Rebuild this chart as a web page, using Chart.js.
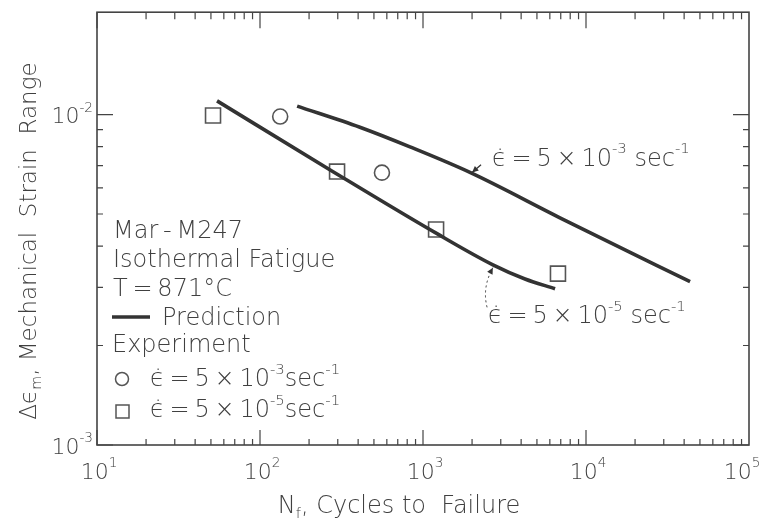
<!DOCTYPE html>
<html><head><meta charset="utf-8">
<script src="https://cdn.jsdelivr.net/npm/chart.js@4/dist/chart.umd.min.js"></script>
<style>html,body{margin:0;padding:0;background:#fff}#wrap{width:762px;height:524px;position:relative}</style>
</head><body><div id="wrap"><canvas id="c"></canvas></div>
<script>
// ---------- data ----------
const xDecades = [10, 100, 1000, 10000, 100000];
const xTickLabels = [['10','1'],['10','2'],['10','3'],['10','4'],['10','5']];
const yDecades = [0.001, 0.01];
const yTickLabels = [['10','-3'],['10','-2']];

const predFastN      = [169, 410, 832, 1941, 6920, 26900, 43500];
const predFastStrain = [0.0106, 0.00915, 0.00798, 0.00668, 0.00487, 0.00350, 0.00312];
const predSlowN      = [54.5, 268, 1219, 2685, 4224, 6460];
const predSlowStrain = [0.0110, 0.00681, 0.00436, 0.00351, 0.00318, 0.00297];

const expFastN      = [133, 560];
const expFastStrain = [0.00986, 0.00667];
const expSlowN      = [51.5, 297, 1203, 6730];
const expSlowStrain = [0.00993, 0.00672, 0.00449, 0.00330];

const FONT = '"DejaVu Sans", sans-serif';
const WEIGHT = '300 ';
const TXT = '#404040';
const LINE = '#333';

function pts(xs, ys){ return xs.map((x,i)=>({x:x, y:ys[i]})); }

// rich text: parts [{t, sup, sub}]
function drawRich(ctx, x, y, parts, size, align){
  const w = parts.map(p=>{
    ctx.font = WEIGHT + ((p.sup||p.sub)? size*0.62 : size) + 'px ' + FONT;
    return ctx.measureText(p.t).width;
  });
  const total = w.reduce((a,b)=>a+b,0);
  let cx = align==='right' ? x-total : align==='center' ? x-total/2 : x;
  ctx.textAlign = 'left';
  ctx.textBaseline = 'middle';
  parts.forEach((p,i)=>{
    const s = (p.sup||p.sub)? size*0.62 : size;
    ctx.font = WEIGHT + s + 'px ' + FONT;
    const dy = p.sup ? -size*0.42 : p.sub ? size*0.3 : 0;
    ctx.fillText(p.t, cx, y + dy);
    cx += w[i];
  });
  return total;
}

const framePlugin = {
  id: 'frame',
  afterDraw(chart){
    const ctx = chart.ctx, a = chart.chartArea;
    const xs = chart.scales.x, ys = chart.scales.y;
    ctx.save();
    ctx.strokeStyle = '#444';
    ctx.lineWidth = 1.6;
    ctx.strokeRect(a.left, a.top, a.right-a.left, a.bottom-a.top);
    ctx.lineWidth = 1.2;
    ctx.beginPath();
    // x ticks (bottom & top)
    for (let d=0; d<xDecades.length-1; d++){
      for (let k=1; k<10; k++){
        const v = xDecades[d]*k;
        const px = xs.getPixelForValue(v);
        const major = (k===1);
        ctx.moveTo(px, a.bottom); ctx.lineTo(px, a.bottom - (major?15:6));
        ctx.moveTo(px, a.top); ctx.lineTo(px, a.top + (major?16:7));
      }
    }
    // y ticks (left & right)
    for (let k=1; k<=10; k++){
      const v = yDecades[0]*k;
      const py = ys.getPixelForValue(v);
      const major = (k===1 || k===10);
      ctx.moveTo(a.left, py); ctx.lineTo(a.left + (major?16:6), py);
      ctx.moveTo(a.right, py); ctx.lineTo(a.right - (major?16:6), py);
    }
    ctx.stroke();

    // tick labels
    ctx.fillStyle = TXT;
    xDecades.forEach((v,i)=>{
      let cx = xs.getPixelForValue(v) + 2;
      if (i === xDecades.length-1) cx = Math.min(cx, chart.width - 20);
      drawRich(ctx, cx, a.bottom+28, [{t:xTickLabels[i][0]},{t:xTickLabels[i][1],sup:true}], 22, 'center');
    });
    yDecades.forEach((v,i)=>{
      drawRich(ctx, a.left-4, ys.getPixelForValue(v)+3, [{t:yTickLabels[i][0]},{t:yTickLabels[i][1],sup:true}], 22, 'right');
    });

    // axis titles
    drawRich(ctx, (a.left+a.right)/2 - 24, 507, [{t:'N'},{t:'f',sub:true},{t:', Cycles to  Failure'}], 24, 'center');
    ctx.save();
    ctx.translate(30, 241);
    ctx.rotate(-Math.PI/2);
    drawRich(ctx, 0, 0, [{t:'\u0394\u03f5'},{t:'m',sub:true},{t:', Mechanical  Strain  Range'}], 23, 'center');
    ctx.restore();

    // legend block
    const lx = a.left + 16;
    const fs = 24;
    drawRich(ctx, lx, 232, [{t:'Mar\u2009-\u2009M247'}], fs, 'left');
    drawRich(ctx, lx, 261, [{t:'Isothermal Fatigue'}], fs, 'left');
    drawRich(ctx, lx, 290, [{t:'T\u2009=\u2009871\u00b0C'}], fs, 'left');
    ctx.strokeStyle = LINE; ctx.lineWidth = 3.5;
    ctx.beginPath(); ctx.moveTo(lx-1, 317); ctx.lineTo(lx+37, 317); ctx.stroke();
    drawRich(ctx, lx+49, 319, [{t:'Prediction'}], fs, 'left');
    drawRich(ctx, lx-1, 346, [{t:'Experiment'}], fs, 'left');
    ctx.strokeStyle = '#555'; ctx.lineWidth = 1.5;
    ctx.beginPath(); ctx.arc(lx+9, 379, 6.5, 0, Math.PI*2); ctx.stroke();
    ctx.strokeRect(lx+3, 405, 13, 13);
    const rateFast = [{t:'\u03f5\u0307\u2009=\u20095\u2009\u00d7\u200910'},{t:'-3',sup:true},{t:'sec'},{t:'-1',sup:true}];
    const rateSlow = [{t:'\u03f5\u0307\u2009=\u20095\u2009\u00d7\u200910'},{t:'-5',sup:true},{t:'sec'},{t:'-1',sup:true}];
    drawRich(ctx, lx+37, 380, rateFast, fs, 'left');
    drawRich(ctx, lx+37, 411, rateSlow, fs, 'left');

    // annotations (anchored in data space)
    const P = (n,s)=>[xs.getPixelForValue(n), ys.getPixelForValue(s)];
    const fastLbl = P(2650, 0.0073);
    drawRich(ctx, fastLbl[0], fastLbl[1], [{t:'\u03f5\u0307\u2009=\u20095\u2009\u00d7\u200910'},{t:'-3',sup:true},{t:' sec'},{t:'-1',sup:true}], 24, 'left');
    const slowLbl = P(2505, 0.00244);
    drawRich(ctx, slowLbl[0], slowLbl[1], [{t:'\u03f5\u0307\u2009=\u20095\u2009\u00d7\u200910'},{t:'-5',sup:true},{t:' sec'},{t:'-1',sup:true}], 24, 'left');

    // fast arrow
    const t1 = P(2270, 0.00705), h1 = P(2000, 0.00668);
    ctx.strokeStyle = LINE; ctx.lineWidth = 1.3; ctx.setLineDash([]);
    ctx.beginPath(); ctx.moveTo(t1[0], t1[1]); ctx.lineTo(h1[0], h1[1]); ctx.stroke();
    arrowHead(ctx, t1, h1);
    // slow dotted arrow
    const t2 = P(2472, 0.00261), c2 = P(2300, 0.00300), h2 = P(2685, 0.00344);
    ctx.setLineDash([2,3]); ctx.lineWidth = 1;
    ctx.beginPath(); ctx.moveTo(t2[0], t2[1]); ctx.quadraticCurveTo(c2[0], c2[1], h2[0], h2[1]); ctx.stroke();
    ctx.setLineDash([]);
    arrowHead(ctx, c2, h2);
    ctx.restore();
  }
};
function arrowHead(ctx, from, to){
  const ang = Math.atan2(to[1]-from[1], to[0]-from[0]);
  const L = 7, W = 0.45;
  ctx.fillStyle = LINE;
  ctx.beginPath();
  ctx.moveTo(to[0], to[1]);
  ctx.lineTo(to[0]-L*Math.cos(ang-W), to[1]-L*Math.sin(ang-W));
  ctx.lineTo(to[0]-L*Math.cos(ang+W), to[1]-L*Math.sin(ang+W));
  ctx.closePath(); ctx.fill();
}

const lineDs = (label, xs, ys) => ({
  label, data: pts(xs, ys), showLine: true, borderColor: LINE, borderWidth: 3.6,
  pointRadius: 0, tension: 0.35, fill: false, cubicInterpolationMode: 'monotone'
});
const markDs = (label, xs, ys, style, r) => ({
  label, data: pts(xs, ys), showLine: false, pointStyle: style, pointRadius: r, pointHoverRadius: r,
  borderColor: '#555', borderWidth: 1.6, backgroundColor: 'rgba(255,255,255,0)'
});

new Chart(document.getElementById('c'), {
  type: 'scatter',
  data: { datasets: [
    lineDs('Prediction 5e-3', predFastN, predFastStrain),
    lineDs('Prediction 5e-5', predSlowN, predSlowStrain),
    markDs('Experiment 5e-3', expFastN, expFastStrain, 'circle', 7.5),
    markDs('Experiment 5e-5', expSlowN, expSlowStrain, 'rect', 10.6)
  ]},
  options: {
    responsive: true, maintainAspectRatio: false, animation: false,
    layout: { padding: { top: 5, right: 13, left: 0, bottom: 0 } },
    plugins: { legend: { display: false }, tooltip: { enabled: false } },
    scales: {
      x: { type: 'logarithmic', min: 10, max: 100000,
           ticks: { display: false }, grid: { display: false }, border: { display: false },
           afterFit(s){ s.height = 79; } },
      y: { type: 'logarithmic', min: 0.001, max: 0.0204,
           ticks: { display: false }, grid: { display: false }, border: { display: false },
           afterFit(s){ s.width = 97; } }
    }
  },
  plugins: [framePlugin]
});
</script></body></html>
